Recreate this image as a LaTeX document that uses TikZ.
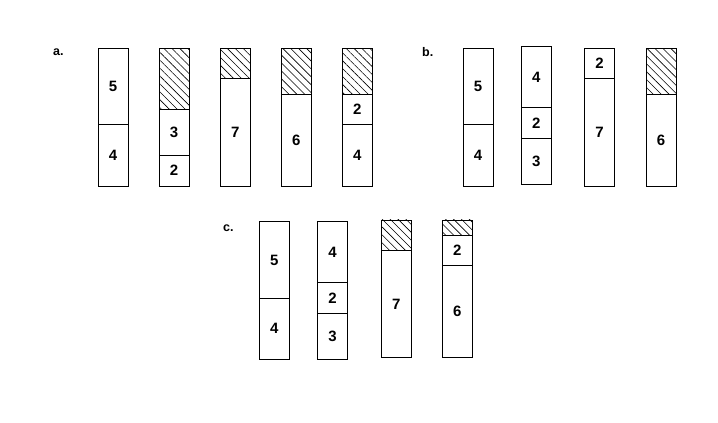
\documentclass[tikz,border=0pt]{standalone}
\usepackage{fontspec}
\setmainfont{Liberation Sans}
\usetikzlibrary{positioning,patterns.meta}

\tikzset{
  cell/.style={draw, line width=0.9pt, outer sep=0pt, inner sep=0pt,
    minimum width=30pt, minimum height=#1*15.3pt,
    font=\bfseries\fontsize{15}{18}\selectfont},
  hatched/.style={cell=#1, pattern={Lines[angle=-45, distance=5.6pt, line width=0.6pt]}},
  panel/.style={anchor=base west, inner sep=0pt, font=\bfseries\fontsize{12.5}{15}\selectfont}
}

\begin{document}
\begin{tikzpicture}[x=1pt, y=1pt]
\useasboundingbox (0,0) rectangle (718,423);

% a.
\node[panel] (lblA) at (53,367) {a.};
\node[cell=5, anchor=north] (a1top) at (113,374.7) {5};
\node[cell=4, below=0pt of a1top] (a1bot) {4};
\node[hatched=4, anchor=north] (a2top) at (174,374.7) {};
\node[cell=3, below=0pt of a2top] (a2mid) {3};
\node[cell=2, below=0pt of a2mid] (a2bot) {2};
\node[hatched=2, anchor=north] (a3top) at (235.3,374.7) {};
\node[cell=7, below=0pt of a3top] (a3bot) {7};
\node[hatched=3, anchor=north] (a4top) at (296.3,374.7) {};
\node[cell=6, below=0pt of a4top] (a4bot) {6};
\node[hatched=3, anchor=north] (a5top) at (357.3,374.7) {};
\node[cell=2, below=0pt of a5top] (a5mid) {2};
\node[cell=4, below=0pt of a5mid] (a5bot) {4};

% b.
\node[panel] (lblB) at (422,366.5) {b.};
\node[cell=5, anchor=north] (b1top) at (478,374.7) {5};
\node[cell=4, below=0pt of b1top] (b1bot) {4};
\node[cell=4, anchor=north] (b2top) at (536.3,376.3) {4};
\node[cell=2, below=0pt of b2top] (b2mid) {2};
\node[cell=3, below=0pt of b2mid] (b2bot) {3};
\node[cell=2, anchor=north] (b3top) at (599.5,374.7) {2};
\node[cell=7, below=0pt of b3top] (b3bot) {7};
\node[hatched=3, anchor=north] (b4top) at (661,374.7) {};
\node[cell=6, below=0pt of b4top] (b4bot) {6};

% c.
\node[panel] (lblC) at (223,191.3) {c.};
\node[cell=5, anchor=north] (c1top) at (274.2,201.3) {5};
\node[cell=4, below=0pt of c1top] (c1bot) {4};
\node[cell=4, anchor=north] (c2top) at (332.5,201.3) {4};
\node[cell=2, below=0pt of c2top] (c2mid) {2};
\node[cell=3, below=0pt of c2mid] (c2bot) {3};
\node[hatched=2, anchor=north] (c3top) at (396.3,203) {};
\node[cell=7, below=0pt of c3top] (c3bot) {7};
\node[hatched=1, anchor=north] (c4top) at (457.2,203) {};
\node[cell=2, below=0pt of c4top] (c4mid) {2};
\node[cell=6, below=0pt of c4mid] (c4bot) {6};
\end{tikzpicture}
\end{document}
